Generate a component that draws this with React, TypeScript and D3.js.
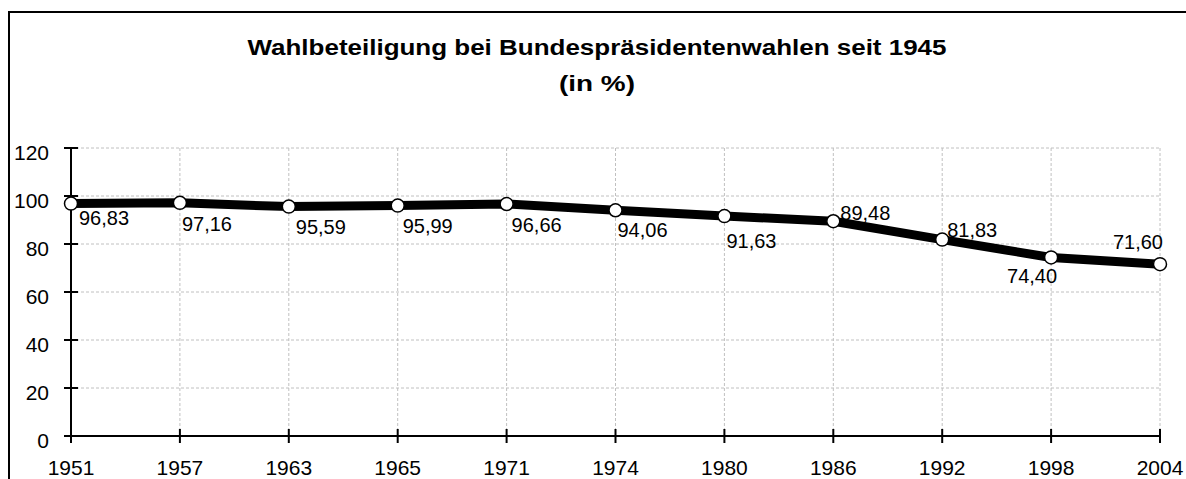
import React from "react";
import * as d3 from "d3";

const years = ["1951", "1957", "1963", "1965", "1971", "1974", "1980", "1986", "1992", "1998", "2004"];
const turnout = [96.83, 97.16, 95.59, 95.99, 96.66, 94.06, 91.63, 89.48, 81.83, 74.4, 71.6];
const yTicks = [0, 20, 40, 60, 80, 100, 120];
// label offsets relative to the point: [dx, dy, anchor]
const labelDx = [8, 2, 7, 5, 5, 2, 2, 7, 5, 6, 3];
const labelDy = [21, 28, 27, 27, 28, 27, 32, -1, -3, 26, -15];
const labelAnchor = ["start", "start", "start", "start", "start", "start", "start", "start", "start", "end", "end"];

const W = 1186;
const H = 479;
const left = 71;
const right = 1160;
const top = 148;
const bottom = 436;

export default function App() {
  const x = d3.scalePoint<string>().domain(years).range([left, right]);
  const y = d3.scaleLinear().domain([0, 120]).range([bottom, top]);
  const line = d3
    .line<number>()
    .x((_, i) => x(years[i]) as number)
    .y((d) => y(d));
  const font = "Liberation Sans, Arial, sans-serif";
  const fmt = (v: number) => v.toFixed(2).replace(".", ",");

  return (
    <svg
      width={W}
      height={H}
      style={{ position: "absolute", left: 0, top: 0, background: "#fff" }}
      fontFamily={font}
    >
      <rect x={9} y={12} width={1200} height={500} fill="#fff" stroke="#000" strokeWidth={2} />
      <text x={597} y={55} textAnchor="middle" fontSize={22} fontWeight="bold" textLength={699} lengthAdjust="spacingAndGlyphs">
        Wahlbeteiligung bei Bundespräsidentenwahlen seit 1945
      </text>
      <text x={597} y={91} textAnchor="middle" fontSize={22} fontWeight="bold" textLength={76} lengthAdjust="spacingAndGlyphs">
        (in %)
      </text>
      {yTicks.filter((t) => t > 0).map((t) => (
        <line key={"h" + t} x1={left} x2={right} y1={y(t)} y2={y(t)} stroke="#c0c0c0" strokeDasharray="3,2" strokeWidth={1} />
      ))}
      {years.slice(1).map((yr) => (
        <line key={"v" + yr} x1={x(yr)} x2={x(yr)} y1={top} y2={bottom} stroke="#c0c0c0" strokeDasharray="3,2" strokeWidth={1} />
      ))}
      <line x1={left} x2={left} y1={top} y2={bottom} stroke="#000" strokeWidth={2} />
      <line x1={left} x2={right} y1={bottom} y2={bottom} stroke="#000" strokeWidth={2} />
      {yTicks.map((t) => (
        <g key={"yt" + t}>
          <line x1={left - 7} x2={left + 7} y1={y(t)} y2={y(t)} stroke="#000" strokeWidth={2} />
          <text x={left - 22} y={y(t) + 12} textAnchor="end" fontSize={21}>
            {t}
          </text>
        </g>
      ))}
      {years.map((yr) => (
        <g key={"xt" + yr}>
          <line x1={x(yr)} x2={x(yr)} y1={bottom - 7} y2={bottom + 7} stroke="#000" strokeWidth={2} />
          <text x={x(yr)} y={475} textAnchor="middle" fontSize={21}>
            {yr}
          </text>
        </g>
      ))}
      <path d={line(turnout) || ""} fill="none" stroke="#000" strokeWidth={9} strokeLinejoin="round" />
      {turnout.map((v, i) => (
        <circle key={"c" + i} cx={x(years[i])} cy={y(v)} r={6.5} fill="#fff" stroke="#000" strokeWidth={1.5} />
      ))}
      {turnout.map((v, i) => (
        <text
          key={"l" + i}
          x={(x(years[i]) as number) + labelDx[i]}
          y={y(v) + labelDy[i]}
          textAnchor={labelAnchor[i] as "start" | "end"}
          fontSize={20}
        >
          {fmt(v)}
        </text>
      ))}
    </svg>
  );
}
